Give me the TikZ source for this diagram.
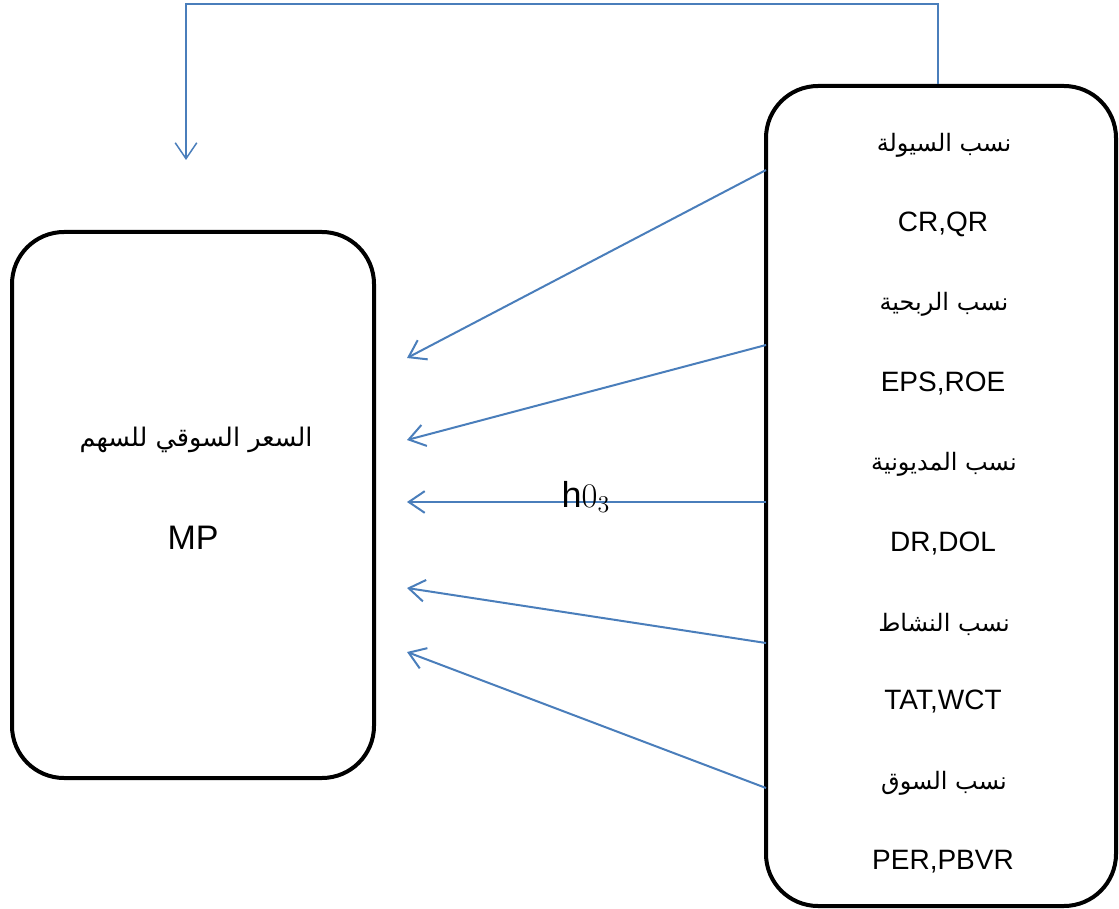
\documentclass[tikz,border=0pt]{standalone}
\usepackage{fontspec}
\setmainfont{Liberation Sans}
\newfontfamily\arabicfont[Script=Arabic]{DejaVu Sans}
\TeXXeTstate=1
\usetikzlibrary{arrows.meta,positioning,calc}
\definecolor{linkblue}{HTML}{4A7EBB}

\begin{document}
\begin{tikzpicture}[x=0.5pt,y=-0.5pt,
    box/.style={draw=black,line width=2pt,rounded corners=26pt,inner sep=0pt},
    lbl/.style={font=\fontsize{14}{16}\selectfont},
    arlbl/.style={font=\arabicfont\fontsize{12}{16}\selectfont},
    link/.style={linkblue,line width=1pt,-{Straight Barb[length=2.8mm,width=3.8mm]}}]
    \useasboundingbox (0,0) rectangle (1119,909);

    % The two boxes: share price on the left, ratio groups on the right.
    \node[box,minimum width=181pt,minimum height=273pt] (price) at (193,505) {};
    \node[box,minimum width=175pt,minimum height=410pt] (ratios) at (941,496) {};

    \node[arlbl,font=\arabicfont\fontsize{12.8}{16}\selectfont] (pricear) at (196,440)
      {\beginR السعر السوقي للسهم\endR};
    \node[lbl,font=\fontsize{17}{19}\selectfont] (mp) at (193,538) {MP};

    \foreach \i/\ya/\yb/\ar/\la in {1/145/224/{نسب السيولة}/{CR,QR},
        2/304/384/{نسب الربحية}/{EPS,ROE},
        3/464/544/{نسب المديونية}/{DR,DOL},
        4/624/702/{نسب النشاط}/{TAT,WCT},
        5/783/862/{نسب السوق}/{PER,PBVR}} {
      \node[arlbl] (grp\i) at (944,\ya) {\beginR\ar\endR};
      \node[lbl] (abbr\i) at (943,\yb) {\la};
    }

    % Each ratio group points at the price box.
    \foreach \i/\ys/\ye in {1/170/358,2/345/440,3/502/502,4/643/588,5/788/652} {
      \coordinate (src\i) at (766,\ys);
      \coordinate (dst\i) at (407,\ye);
      \draw[link] (src\i) -- (dst\i);
    }
    \node[lbl,font=\fontsize{18}{20}\selectfont] (hyp) at (586,497) {h\(0_3\)};

    % Feedback line over the top.
    \coordinate (fbend) at (186,160);
    \draw[link,line width=0.75pt] ([xshift=-1.5pt]ratios.north) -- ++(0,-80) -| (fbend);
  \end{tikzpicture}
\end{document}
